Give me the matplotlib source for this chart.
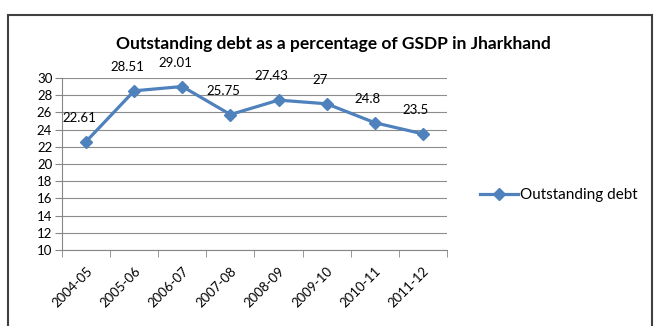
import numpy as np
import matplotlib
matplotlib.use('Agg')
import matplotlib.pyplot as plt
from matplotlib.patches import Rectangle

years = ['2004-05', '2005-06', '2006-07', '2007-08', '2008-09', '2009-10', '2010-11', '2011-12']
debt = [22.61, 28.51, 29.01, 25.75, 27.43, 27, 24.8, 23.5]
debt_labels = ['22.61', '28.51', '29.01', '25.75', '27.43', '27', '24.8', '23.5']

plt.rcParams['font.family'] = ['Lato', 'DejaVu Sans']

def main():
    fig = plt.figure(figsize=(6.55, 3.26), dpi=100)
    fig.patches.append(Rectangle((8 / 655, -0.1), 644 / 655, 1.1 - 15 / 326,
                                 transform=fig.transFigure, fill=False,
                                 edgecolor='#404040', lw=1.5))
    ax = fig.add_axes([62 / 655, 1 - 250 / 326, 385 / 655, 172 / 326])
    x = np.arange(len(years))
    ax.plot(x, debt, color='#4F81BD', lw=2.3, marker='D', ms=6,
            label='Outstanding debt')
    for xi, v, t in zip(x, debt, debt_labels):
        ax.annotate(t, (xi, v), xytext=(-5, 17), textcoords='offset points',
                    ha='center', va='center', fontsize=9.5)
    ax.set_xlim(-0.5, len(years) - 0.5)
    ax.set_ylim(10, 30)
    ax.set_yticks(np.arange(10, 31, 2))
    ax.set_xticks(x)
    ax.set_xticklabels(years, rotation=45, ha='right', va='top',
                       rotation_mode='anchor', fontsize=9.5)
    ax.set_xticks(np.arange(-0.5, len(years)), minor=True)
    ax.tick_params(axis='x', which='major', length=0, pad=11)
    ax.tick_params(axis='x', which='minor', length=5, color='#868686')
    ax.tick_params(axis='y', length=5, color='#868686', labelsize=9.5, pad=2)
    ax.grid(axis='y', color='#8c8c8c', lw=0.8)
    ax.set_axisbelow(True)
    for s in ['top', 'right']:
        ax.spines[s].set_visible(False)
    for s in ['left', 'bottom']:
        ax.spines[s].set_color('#868686')
    ax.set_title('Outstanding debt as a percentage of GSDP in Jharkhand',
                 fontsize=12.5, fontweight='bold', x=(333 - 62) / 385, y=1.12)
    ax.legend(loc='center left', bbox_to_anchor=(1.05, 0.32), frameon=False,
              fontsize=11, handlelength=2.5, handletextpad=0.1)
    fig.savefig('out.png', dpi=100)

if __name__ == '__main__':
    main()
